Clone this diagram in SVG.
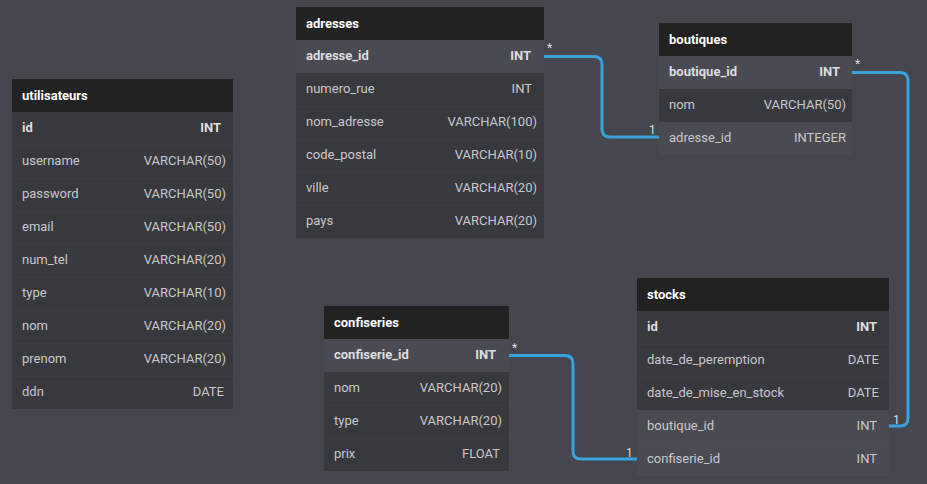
<svg xmlns="http://www.w3.org/2000/svg" width="927" height="484" viewBox="0 0 927 484">
<style>
.bg{fill:#46464e}
.hd{fill:#222222}
.row{fill:#38383f}
.pk{fill:#4a4a52}
.sep{stroke:#3d3d45;stroke-width:1}
.ht{font-family:Roboto,"Liberation Sans",sans-serif;font-size:13px;font-weight:bold;fill:#ffffff}
.t{font-family:Roboto,"Liberation Sans",sans-serif;font-size:13px;fill:#c9c9cc}
.tb{font-family:Roboto,"Liberation Sans",sans-serif;font-size:13px;font-weight:bold;fill:#dedee0}
.r{text-anchor:end}
.c{fill:none;stroke:#38a3dc;stroke-width:3}
.lb{font-family:Roboto,"Liberation Sans",sans-serif;font-size:12px;fill:#dddddd}
</style>
<rect class="bg" x="0" y="0" width="927" height="484"/>

<g id="utilisateurs">
<rect class="hd" x="12" y="79" width="221" height="33"/>
<text class="ht" x="22" y="99.5">utilisateurs</text>
<rect class="row" x="12" y="112" width="221" height="297"/>
<g class="sep"><line x1="12" y1="145.5" x2="233" y2="145.5"/><line x1="12" y1="178.5" x2="233" y2="178.5"/><line x1="12" y1="211.5" x2="233" y2="211.5"/><line x1="12" y1="244.5" x2="233" y2="244.5"/><line x1="12" y1="277.5" x2="233" y2="277.5"/><line x1="12" y1="310.5" x2="233" y2="310.5"/><line x1="12" y1="343.5" x2="233" y2="343.5"/><line x1="12" y1="376.5" x2="233" y2="376.5"/></g>
<text class="tb" x="22" y="132">id</text><text class="tb r" x="221" y="132">INT</text>
<text class="t" x="22" y="165">username</text><text class="t r" x="226" y="165">VARCHAR(50)</text>
<text class="t" x="22" y="198">password</text><text class="t r" x="226" y="198">VARCHAR(50)</text>
<text class="t" x="22" y="231">email</text><text class="t r" x="226" y="231">VARCHAR(50)</text>
<text class="t" x="22" y="264">num_tel</text><text class="t r" x="226" y="264">VARCHAR(20)</text>
<text class="t" x="22" y="297">type</text><text class="t r" x="226" y="297">VARCHAR(10)</text>
<text class="t" x="22" y="330">nom</text><text class="t r" x="226" y="330">VARCHAR(20)</text>
<text class="t" x="22" y="363">prenom</text><text class="t r" x="226" y="363">VARCHAR(20)</text>
<text class="t" x="22" y="396">ddn</text><text class="t r" x="224" y="396">DATE</text>
</g>

<g id="adresses">
<rect class="hd" x="296" y="7" width="248" height="33"/>
<text class="ht" x="306" y="27.5">adresses</text>
<rect class="pk" x="296" y="40" width="248" height="33"/>
<rect class="row" x="296" y="73" width="248" height="165"/>
<g class="sep"><line x1="296" y1="106.5" x2="544" y2="106.5"/><line x1="296" y1="139.5" x2="544" y2="139.5"/><line x1="296" y1="172.5" x2="544" y2="172.5"/><line x1="296" y1="205.5" x2="544" y2="205.5"/></g>
<text class="tb" x="306" y="60">adresse_id</text><text class="tb r" x="531" y="60">INT</text>
<text class="t" x="306" y="93">numero_rue</text><text class="t r" x="532" y="93">INT</text>
<text class="t" x="306" y="126">nom_adresse</text><text class="t r" x="537" y="126">VARCHAR(100)</text>
<text class="t" x="306" y="159">code_postal</text><text class="t r" x="537" y="159">VARCHAR(10)</text>
<text class="t" x="306" y="192">ville</text><text class="t r" x="537" y="192">VARCHAR(20)</text>
<text class="t" x="306" y="225">pays</text><text class="t r" x="537" y="225">VARCHAR(20)</text>
</g>

<g id="boutiques">
<rect class="hd" x="659" y="23" width="193" height="33"/>
<text class="ht" x="669" y="43.5">boutiques</text>
<rect class="pk" x="659" y="56" width="193" height="33"/>
<rect class="row" x="659" y="89" width="193" height="33"/>
<rect class="pk" x="659" y="122" width="193" height="33"/>
<text class="tb" x="669" y="76">boutique_id</text><text class="tb r" x="840" y="76">INT</text>
<text class="t" x="669" y="109">nom</text><text class="t r" x="846" y="109">VARCHAR(50)</text>
<text class="t" x="669" y="142">adresse_id</text><text class="t r" x="846" y="142">INTEGER</text>
</g>

<g id="confiseries">
<rect class="hd" x="324" y="306" width="185" height="33"/>
<text class="ht" x="334" y="326.5">confiseries</text>
<rect class="pk" x="324" y="339" width="185" height="33"/>
<rect class="row" x="324" y="372" width="185" height="99"/>
<g class="sep"><line x1="324" y1="405.5" x2="509" y2="405.5"/><line x1="324" y1="438.5" x2="509" y2="438.5"/></g>
<text class="tb" x="334" y="359">confiserie_id</text><text class="tb r" x="496" y="359">INT</text>
<text class="t" x="334" y="392">nom</text><text class="t r" x="502" y="392">VARCHAR(20)</text>
<text class="t" x="334" y="425">type</text><text class="t r" x="502" y="425">VARCHAR(20)</text>
<text class="t" x="334" y="458">prix</text><text class="t r" x="500" y="458">FLOAT</text>
</g>

<g id="stocks">
<rect class="hd" x="637" y="278" width="252" height="33"/>
<text class="ht" x="647" y="298.5">stocks</text>
<rect class="row" x="637" y="311" width="252" height="99"/>
<g class="sep"><line x1="637" y1="344.5" x2="889" y2="344.5"/><line x1="637" y1="377.5" x2="889" y2="377.5"/></g>
<rect class="pk" x="637" y="410" width="252" height="66"/>
<line x1="637" y1="443.5" x2="889" y2="443.5" stroke="#4d4d55" stroke-width="1"/>
<text class="tb" x="647" y="331">id</text><text class="tb r" x="877" y="331">INT</text>
<text class="t" x="647" y="364">date_de_peremption</text><text class="t r" x="879" y="364">DATE</text>
<text class="t" x="647" y="397">date_de_mise_en_stock</text><text class="t r" x="879" y="397">DATE</text>
<text class="t" x="647" y="430">boutique_id</text><text class="t r" x="877" y="430">INT</text>
<text class="t" x="647" y="463">confiserie_id</text><text class="t r" x="877" y="463">INT</text>
</g>

<g id="connectors">
<path class="c" d="M544,56.5 H594 Q602,56.5 602,64.5 V129 Q602,137 610,137 H659"/>
<path class="c" d="M852,72.5 H900 Q908,72.5 908,80.5 V418 Q908,426 900,426 H889"/>
<path class="c" d="M509,355.5 H565 Q573,355.5 573,363.5 V451 Q573,459 581,459 H637"/>
<text class="lb" x="547" y="52">*</text>
<text class="lb" x="649" y="134">1</text>
<text class="lb" x="855" y="68">*</text>
<text class="lb" x="893" y="424">1</text>
<text class="lb" x="512" y="352">*</text>
<text class="lb" x="626" y="457">1</text>
</g>
</svg>
